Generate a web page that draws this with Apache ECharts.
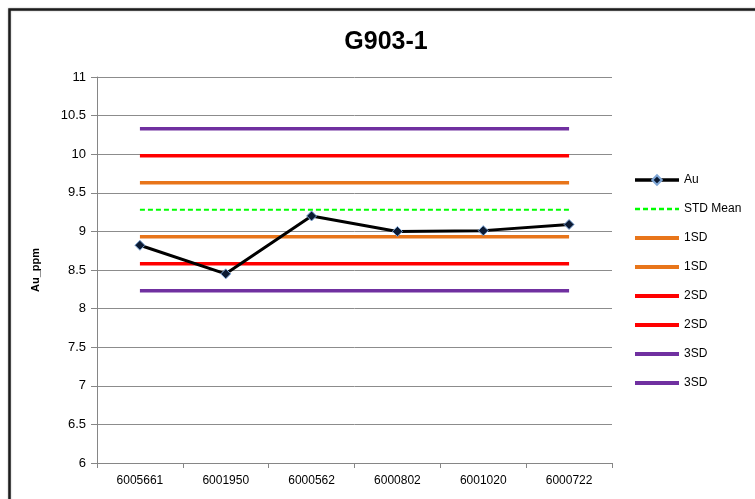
<!DOCTYPE html>
<html>
<head>
<meta charset="utf-8">
<script src="https://cdn.jsdelivr.net/npm/echarts@6/dist/echarts.min.js"></script>
<style>
  html, body { margin: 0; padding: 0; background: #fff; }
  #chart { width: 755px; height: 499px; }
</style>
</head>
<body>
<div id="chart"></div>
<script>
// Sample IDs along the x axis
const sampleIds = ['6005661', '6001950', '6000562', '6000802', '6001020', '6000722'];
// Measured gold values (ppm)
const auValues = [8.82, 8.45, 9.20, 9.00, 9.01, 9.09];
// Control limits for standard G903-1
const stdMean = 9.28;
const upper1SD = 9.63;
const lower1SD = 8.93;
const upper2SD = 9.98;
const lower2SD = 8.58;
const upper3SD = 10.33;
const lower3SD = 8.23;
// Y-axis range
const yMin = 6;
const yMax = 11;
const yStep = 0.5;
// Legend entries (trailing space keeps the paired limits distinct)
const legendNames = ['Au', 'STD Mean', '1SD', '1SD ', '2SD', '2SD ', '3SD', '3SD '];

const flat = v => sampleIds.map(() => v);

const FONT = '"Liberation Sans", Arial, sans-serif';
const ORANGE = '#E8751A';
const RED = '#FF0000';
const PURPLE = '#7030A0';

function limitSeries(name, value, color) {
  return {
    name: name,
    type: 'line',
    data: flat(value),
    symbol: 'none',
    silent: true,
    lineStyle: { color: color, width: 3.5 },
    itemStyle: { color: color },
    z: 2
  };
}

function legendEntry(n) {
  if (n === 'Au') {
    return { name: n, lineStyle: { width: 3.5 } };
  }
  if (n === 'STD Mean') {
    return { name: n, itemStyle: { opacity: 0 }, lineStyle: { width: 2.5 } };
  }
  return { name: n, itemStyle: { opacity: 0 }, lineStyle: { width: 4 } };
}

const chart = echarts.init(document.getElementById('chart'));
chart.setOption({
  animation: false,
  backgroundColor: '#fff',
  title: {
    text: 'G903-1',
    left: 381,
    top: 25,
    textAlign: 'center',
    textStyle: { fontFamily: FONT, fontSize: 25, fontWeight: 'bold', color: '#000' }
  },
  graphic: [{
    type: 'rect',
    shape: { x: 9.5, y: 9.5, width: 800, height: 600 },
    style: { fill: 'none', stroke: '#1c1c1c', lineWidth: 2.5, shadowColor: 'rgba(0,0,0,0.35)', shadowBlur: 2 },
    silent: true,
    z: 100
  }],
  legend: {
    orient: 'vertical',
    left: 628,
    top: 169,
    itemWidth: 44,
    itemHeight: 12,
    itemGap: 17,
    selectedMode: false,
    textStyle: { fontFamily: FONT, fontSize: 12, color: '#000' },
    data: legendNames.map(legendEntry)
  },
  grid: { left: 97, right: 143, top: 77, bottom: 36 },
  xAxis: {
    type: 'category',
    data: sampleIds,
    boundaryGap: true,
    axisLine: { lineStyle: { color: '#868686', width: 1 } },
    axisTick: { show: true, length: 5, lineStyle: { color: '#868686' } },
    axisLabel: { fontFamily: FONT, fontSize: 12, color: '#000', margin: 12 },
    splitLine: { show: false }
  },
  yAxis: {
    type: 'value',
    min: yMin,
    max: yMax,
    interval: yStep,
    name: 'Au_ppm',
    nameLocation: 'middle',
    nameGap: 56,
    nameRotate: 90,
    nameTextStyle: { fontFamily: FONT, fontSize: 11, fontWeight: 'bold', color: '#000' },
    axisLine: { show: true, lineStyle: { color: '#868686', width: 1 } },
    axisTick: { show: true, length: 6, inside: false, lineStyle: { color: '#868686' } },
    axisLabel: { fontFamily: FONT, fontSize: 13, color: '#000', margin: 11 },
    splitLine: { show: true, lineStyle: { color: '#8c8c8c', width: 1 } }
  },
  series: [
    {
      name: 'Au',
      type: 'line',
      data: auValues,
      symbol: 'diamond',
      symbolSize: 10,
      showSymbol: true,
      lineStyle: { color: '#000', width: 3 },
      itemStyle: { color: '#0b1a33', borderColor: '#7fa6d6', borderWidth: 1 },
      z: 5
    },
    {
      name: 'STD Mean',
      type: 'line',
      data: flat(stdMean),
      symbol: 'none',
      silent: true,
      lineStyle: { color: '#00FF00', width: 2, type: [5, 3] },
      itemStyle: { color: '#00FF00' },
      z: 3
    },
    limitSeries('1SD', upper1SD, ORANGE),
    limitSeries('1SD ', lower1SD, ORANGE),
    limitSeries('2SD', upper2SD, RED),
    limitSeries('2SD ', lower2SD, RED),
    limitSeries('3SD', upper3SD, PURPLE),
    limitSeries('3SD ', lower3SD, PURPLE)
  ]
});
</script>
</body>
</html>
